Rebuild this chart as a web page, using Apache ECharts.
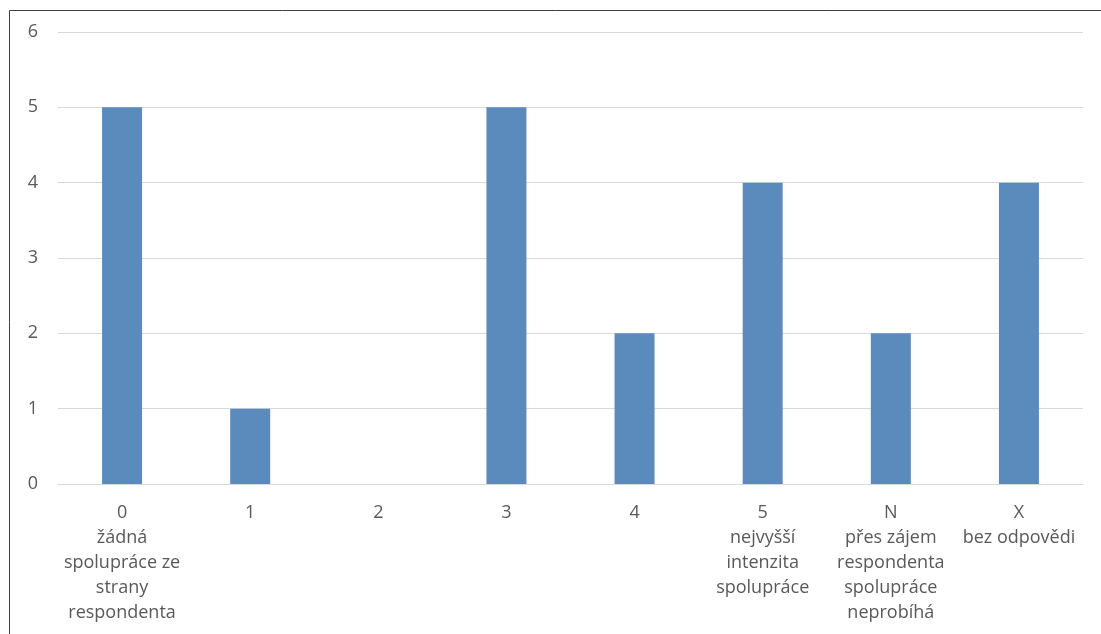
<!DOCTYPE html>
<html>
<head>
<meta charset="utf-8">
<script src="https://cdn.jsdelivr.net/npm/echarts@6/dist/echarts.min.js"></script>
<style>
html,body{margin:0;padding:0;background:#fff;}
#c{width:1101px;height:634px;}
</style>
</head>
<body>
<div id="c"></div>
<script>
const codes = ['0', '1', '2', '3', '4', '5', 'N', 'X'];
const descriptions = [
  'žádná\nspolupráce ze\nstrany\nrespondenta',
  '',
  '',
  '',
  '',
  'nejvyšší\nintenzita\nspolupráce',
  'přes zájem\nrespondenta\nspolupráce\nneprobíhá',
  'bez odpovědi'
];
const values = [5, 1, 0, 5, 2, 4, 2, 4];
const yTicks = [0, 1, 2, 3, 4, 5, 6];

const categories = codes.map((c, i) => descriptions[i] ? c + '\n' + descriptions[i] : c);

const chart = echarts.init(document.getElementById('c'), null, {renderer: 'canvas'});
chart.setOption({
  animation: false,
  textStyle: {fontFamily: 'Open Sans', color: '#595959'},
  grid: {left: 58, right: 18, top: 32, bottom: 150, containLabel: false},
  graphic: [
    {type: 'line', shape: {x1: 9.5, y1: 10.5, x2: 1101, y2: 10.5}, style: {stroke: '#404040', lineWidth: 1}},
    {type: 'line', shape: {x1: 9.5, y1: 10.5, x2: 9.5, y2: 634}, style: {stroke: '#404040', lineWidth: 1}}
  ],
  xAxis: {
    type: 'category',
    data: categories,
    axisLine: {show: true, lineStyle: {color: '#d9d9d9', width: 1}},
    axisTick: {show: false},
    axisLabel: {
      interval: 0,
      color: '#595959',
      fontSize: 18,
      lineHeight: 25,
      margin: 16,
      fontFamily: 'Open Sans'
    }
  },
  yAxis: {
    type: 'value',
    min: yTicks[0],
    max: yTicks[yTicks.length - 1],
    interval: 1,
    axisLine: {show: false},
    axisTick: {show: false},
    splitLine: {lineStyle: {color: '#d9d9d9', width: 1}},
    axisLabel: {color: '#595959', fontSize: 18, margin: 20, fontFamily: 'Open Sans'}
  },
  series: [{
    type: 'bar',
    data: values,
    barWidth: 40,
    itemStyle: {color: '#5b8bbd'}
  }]
});
</script>
</body>
</html>
